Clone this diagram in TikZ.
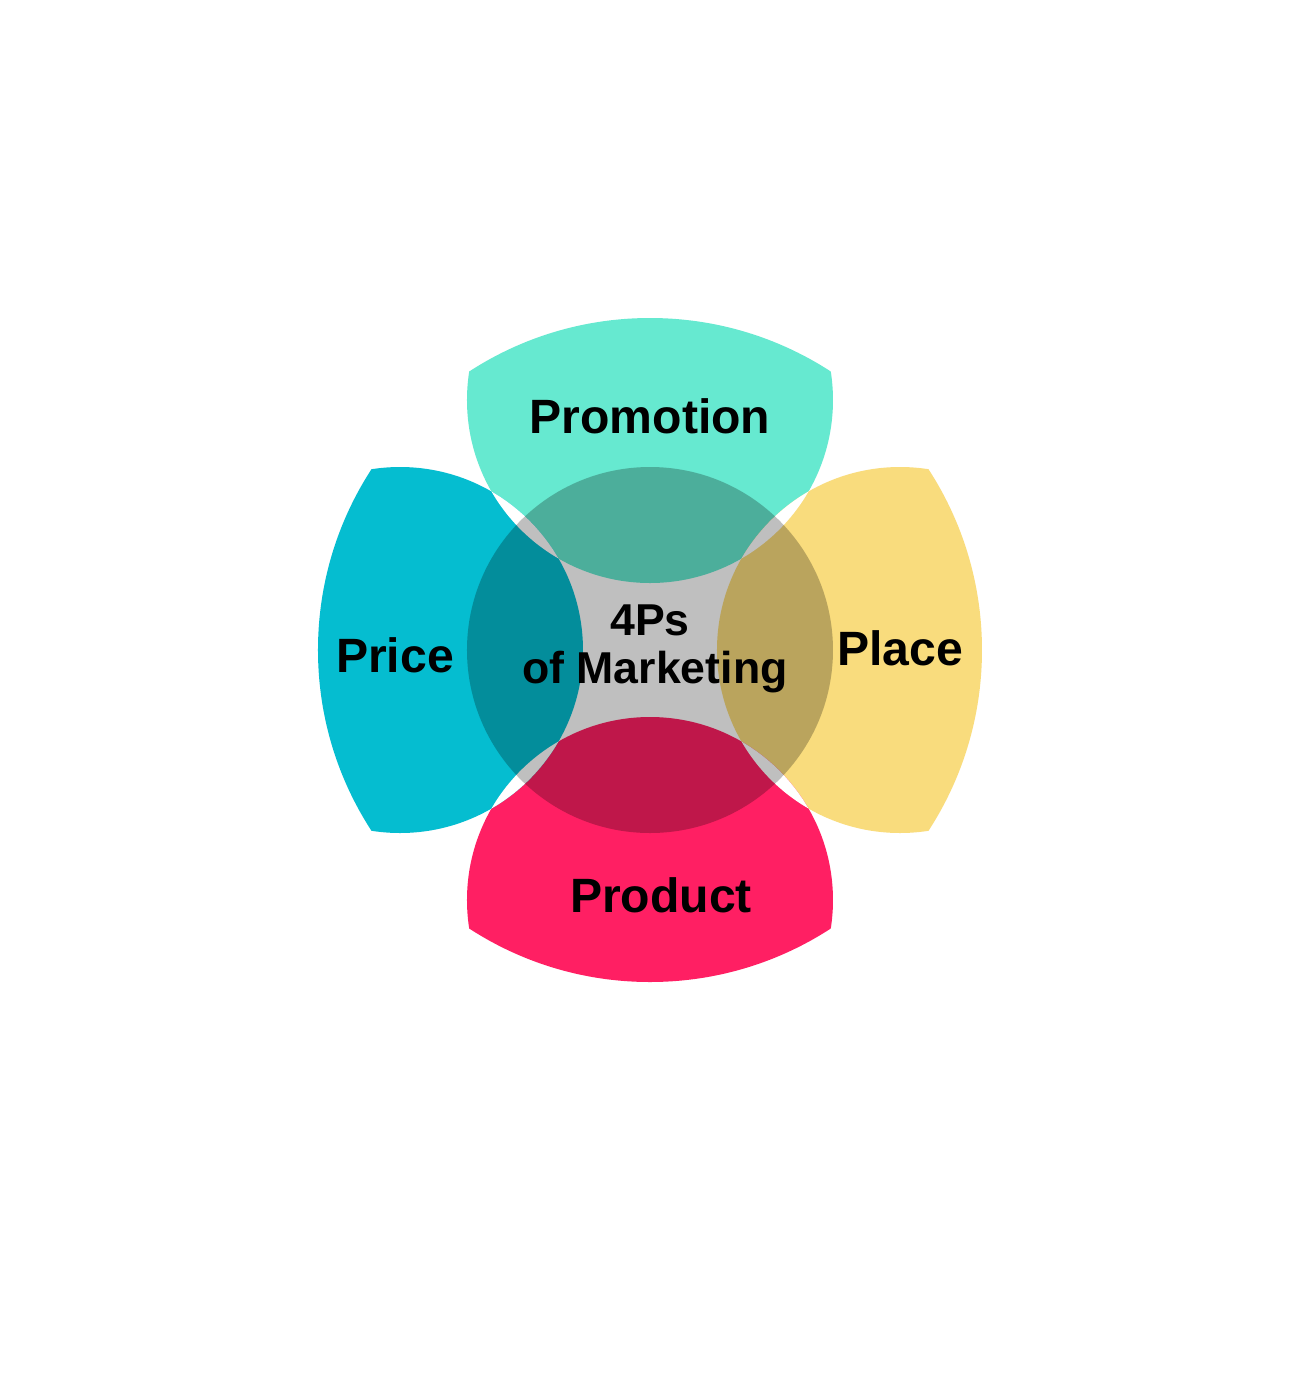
\documentclass[tikz,border=0pt]{standalone}
\usepackage{fontspec}
\setmainfont{Liberation Sans}
\usepackage{xcolor}

\definecolor{promocol}{RGB}{102,233,208}
\definecolor{placecol}{RGB}{249,220,125}
\definecolor{productcol}{RGB}{255,31,99}
\definecolor{pricecol}{RGB}{5,189,208}

\begin{document}
\begin{tikzpicture}[
    plabel/.style={font=\fontsize{13.7}{16}\selectfont\bfseries, inner sep=0pt, anchor=base},
    clabel/.style={font=\fontsize{12.7}{15}\selectfont\bfseries, inner sep=0pt, anchor=base}
  ]
        % Page
        \useasboundingbox (-6.5,-7.4) rectangle (6.5,6.5);
        \fill[white] (-6.5,-7.4) rectangle (6.5,6.5);

        % Draw the four petals
        \begin{scope}
          \clip (0,0) circle (3.32);
          \fill[promocol] (0,2.5) circle (1.83);
          \fill[placecol] (2.5,0) circle (1.83);
          \fill[productcol] (0,-2.5) circle (1.83);
          \fill[pricecol] (-2.5,0) circle (1.83);
        \end{scope}

        % Cut out where two petals overlap
        \begin{scope}
          \clip (0,2.5) circle (1.83);
          \fill[white] (2.5,0) circle (1.83);
          \fill[white] (-2.5,0) circle (1.83);
        \end{scope}
        \begin{scope}
          \clip (0,-2.5) circle (1.83);
          \fill[white] (2.5,0) circle (1.83);
          \fill[white] (-2.5,0) circle (1.83);
        \end{scope}

        % Shade the centre
        \fill[black, opacity=0.25] (0,0) circle (1.83);

        % Labels
        \node[plabel] (promotion) at (0,2.17) {Promotion};
        \node[plabel] (price) at (-2.55,-0.22) {Price};
        \node[plabel] (place) at (2.5,-0.15) {Place};
        \node[plabel] (product) at (0.11,-2.62) {Product};
        \node[clabel] (fourps) at (0,0.15) {4Ps};
        \node[clabel] (marketing) at (0.05,-0.33) {of Marketing};
      \end{tikzpicture}
\end{document}
